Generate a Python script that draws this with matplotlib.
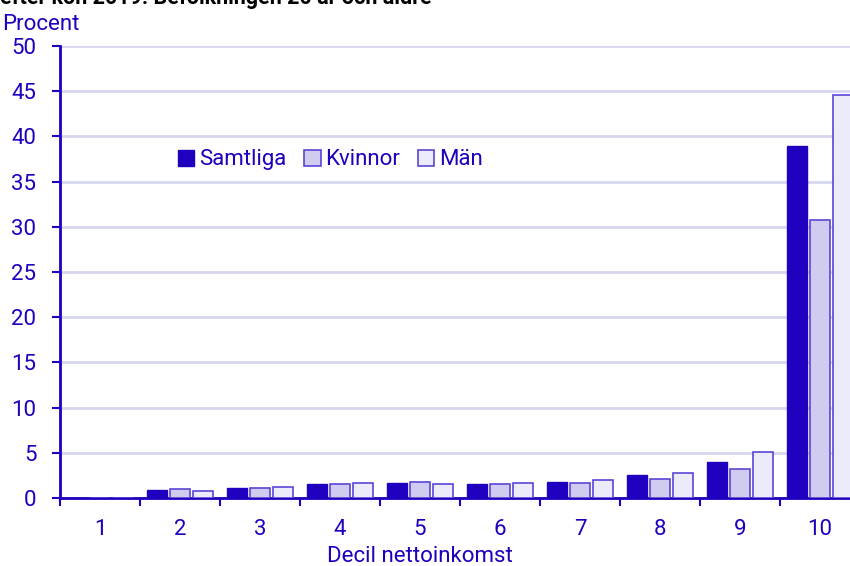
import matplotlib
matplotlib.use("Agg")
import matplotlib.pyplot as plt
import numpy as np

plt.rcParams['font.family'] = ['Roboto', 'DejaVu Sans']

deciles = ['1', '2', '3', '4', '5', '6', '7', '8', '9', '10']
samtliga = [0.0, 0.9, 1.1, 1.6, 1.7, 1.6, 1.8, 2.5, 4.0, 38.9]
kvinnor = [0.0, 1.0, 1.1, 1.5, 1.8, 1.6, 1.7, 2.1, 3.2, 30.7]
man = [0.0, 0.8, 1.2, 1.7, 1.6, 1.7, 2.0, 2.8, 5.1, 44.6]
yticks = [0, 5, 10, 15, 20, 25, 30, 35, 40, 45, 50]

BLUE = '#1e00be'
C_S = '#1e00be'
C_K = '#d0ccf0'
C_M = '#ecebfc'
EDGE = '#5a46d6'
GRID = '#d6d6f0'
FS = 16

W, H = 850, 566
fig = plt.figure(figsize=(W / 100, H / 100), dpi=100)
ax = fig.add_axes([60 / W, (H - 498) / H, (850 - 60) / W, (498 - 46) / H])

x = np.arange(1, len(deciles) + 1)
bw = 0.25
off = 0.29
ax.bar(x - off, samtliga, bw, color=C_S, edgecolor=C_S, linewidth=1, label='Samtliga', zorder=3)
ax.bar(x, kvinnor, bw, color=C_K, edgecolor=EDGE, linewidth=1.2, label='Kvinnor', zorder=3)
ax.bar(x + off, man, bw, color=C_M, edgecolor=EDGE, linewidth=1.2, label='Män', zorder=3)

ax.set_yticks(yticks)
ax.yaxis.grid(True, color=GRID, linewidth=2, zorder=0)
ax.set_axisbelow(True)

ax.set_xticks(x)
ax.set_xticklabels(deciles)
ax.set_xticks(np.arange(0.5, 10.6, 1), minor=True)
ax.set_xlim(0.5, 10.375)
ax.set_ylim(0, 50)
ax.tick_params(axis='x', which='major', length=0, pad=15, labelsize=FS, labelcolor=BLUE)
ax.tick_params(axis='x', which='minor', length=6, width=1.5, color=BLUE, direction='out')
ax.tick_params(axis='y', which='major', length=6, width=1.5, color=BLUE, pad=11,
               labelsize=FS, labelcolor=BLUE)

for s in ['top', 'right']:
    ax.spines[s].set_visible(False)
for s in ['left', 'bottom']:
    ax.spines[s].set_color(BLUE)
    ax.spines[s].set_linewidth(2)

ax.set_xlabel('Decil nettoinkomst', fontsize=FS, color=BLUE)
ax.xaxis.set_label_coords((420 - 60) / 790, -(557 - 498) / 452)
ax.xaxis.label.set_verticalalignment('center')

leg = ax.legend(loc='center left', bbox_to_anchor=(0.149, 0.748), ncol=3, frameon=False,
                fontsize=FS, handlelength=0.75, handleheight=0.75, handletextpad=0.2,
                columnspacing=0.8, borderaxespad=0, borderpad=0)
for t in leg.get_texts():
    t.set_color(BLUE)

fig.text(0.003, 1 - 30 / H, 'Procent', fontsize=FS, color=BLUE, va='baseline', ha='left')
fig.text(0.0, 1 - 4 / H, 'efter kön 2019. Befolkningen 20 år och äldre', fontsize=15.5,
         fontweight='bold', color='black', va='baseline', ha='left')

fig.savefig('out.png', dpi=100)
